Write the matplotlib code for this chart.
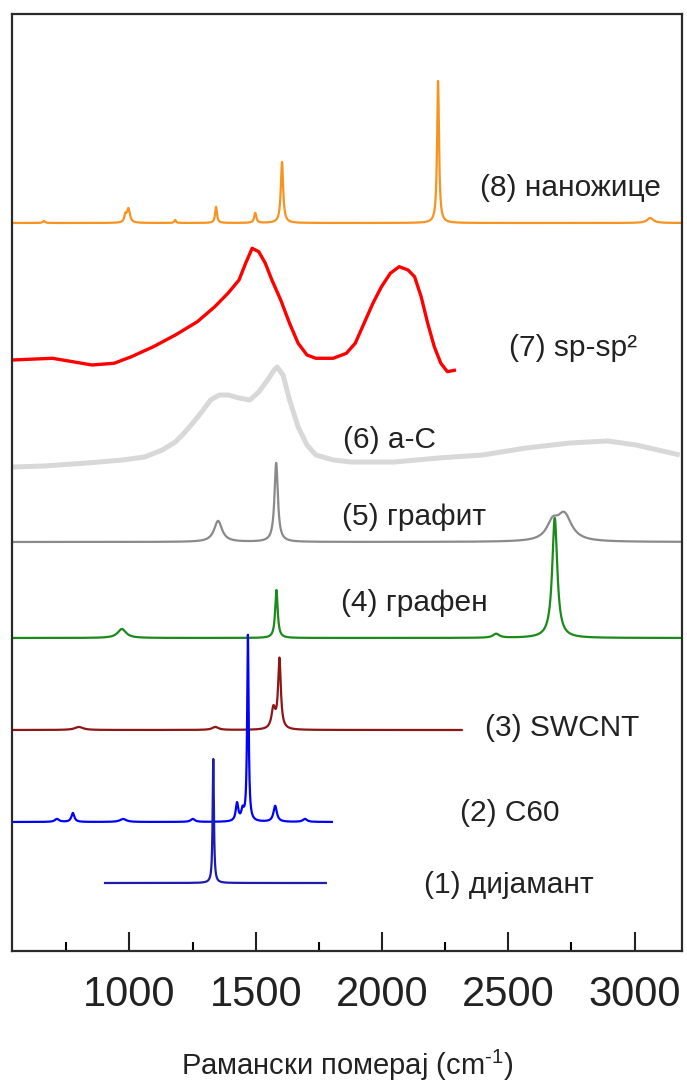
import numpy as np
import matplotlib
matplotlib.use("Agg")
import matplotlib.pyplot as plt

plt.rcParams['font.family'] = ['Liberation Sans', 'DejaVu Sans']
plt.rcParams['mathtext.fontset'] = 'custom'
plt.rcParams['mathtext.rm'] = 'Liberation Sans'
plt.rcParams['mathtext.it'] = 'Liberation Sans:italic'
plt.rcParams['mathtext.bf'] = 'Liberation Sans:bold'

# ---- Raman spectra (shift in cm^-1, intensity in arbitrary units) ----
# Sharp spectra are described by their bands: (centre, height, FWHM)
diamond_range = (899, 1782)
diamond_peaks = [(1332, 124, 6)]

c60_range = (535, 1806)
c60_peaks = [(1469, 186, 7), (1448, 10, 12), (1426, 18, 12), (1577, 16, 16),
             (776, 9, 14), (713, 3, 20), (975, 3, 30), (1251, 3, 20), (1695, 3, 20)]

swcnt_range = (535, 2320)
swcnt_peaks = [(1594, 70, 13), (1570, 20, 18), (1340, 3, 30), (800, 3, 40)]

graphene_range = (535, 3188)
graphene_peaks = [(1582, 48, 12), (2684, 120, 24), (970, 9, 40), (2452, 4, 30)]

graphite_range = (535, 3188)
graphite_peaks = [(1581, 79, 16), (1351, 21, 38), (2722, 26, 70), (2675, 16, 55)]

nanowire_range = (535, 3188)
nanowire_peaks = [(2222, 142, 9), (1604, 61, 11), (996, 14, 14), (984, 7, 10),
                  (1343, 16, 9), (1498, 10, 10), (3062, 5, 30), (1181, 3, 8), (661, 2, 10)]

# Broad spectra are given as points
ac_shift = [539, 661, 834, 973, 1060, 1130, 1182, 1217, 1251, 1286, 1321, 1356,
            1390, 1434, 1477, 1512, 1547, 1573, 1585, 1608, 1634, 1668, 1703, 1738,
            1807, 1877, 2050, 2224, 2398, 2571, 2745, 2893, 3006, 3093, 3179]
ac_int = [0, 1, 4, 7, 10, 17, 25, 34, 44, 55, 67, 72,
          72, 69, 67, 75, 87, 97, 100, 92, 67, 40, 22, 12,
          7, 5, 5, 9, 12, 19, 24, 26, 22, 17, 12]

spsp2_shift = [539, 695, 852, 939, 1008, 1095, 1182, 1269, 1338, 1390, 1434, 1460,
               1486, 1512, 1538, 1564, 1599, 1634, 1668, 1703, 1738, 1807, 1859, 1894,
               1929, 1964, 1998, 2033, 2068, 2103, 2129, 2155, 2181, 2207, 2233, 2259, 2293]
spsp2_int = [0, 1.7, -5, -3.3, 3.3, 13.3, 25, 38.3, 53.3, 66.7, 80, 96.7,
             111.7, 108.3, 96.7, 80, 60, 36.7, 16.7, 5, 1.7, 1.7, 6.7, 16.7,
             36.7, 56.7, 73.3, 86.7, 93.3, 90, 83.3, 63.3, 36.7, 13.3, -3.3, -11.7, -10]

# Vertical stacking offsets, (1) at the bottom to (8) at the top
offsets = [68, 129, 221, 313, 409, 484, 591, 728]

labels = ['(1) дијамант', '(2) C60', '(3) SWCNT', '(4) графен',
          '(5) графит', '(6) a-C', '(7) sp-sp²', '(8) наножице']
colors = ['#1c1cb0', '#0000ff', '#8e1616', '#1a8a1a',
          '#8a8a8a', '#d8d8d8', '#ff0000', '#f7931e']
widths = [1.6, 1.6, 1.6, 1.6, 1.6, 3.6, 2.4, 1.6]

# label centres (shift, intensity)
label_pos = [(2501, 66), (2505, 138), (2715, 223), (2129, 348),
             (2125, 434), (2028, 511), (2758, 603), (2745, 763)]


def band_sum(x, peaks):
    y = np.zeros_like(x)
    for c, h, w in peaks:
        y += h / (1.0 + ((x - c) / (w / 2.0)) ** 2)
    return y


def sampled(rng, peaks):
    x = np.arange(rng[0], rng[1] + 0.5, 0.5)
    return x, band_sum(x, peaks)


curves = [
    sampled(diamond_range, diamond_peaks),
    sampled(c60_range, c60_peaks),
    sampled(swcnt_range, swcnt_peaks),
    sampled(graphene_range, graphene_peaks),
    sampled(graphite_range, graphite_peaks),
    (np.array(ac_shift, float), np.array(ac_int, float)),
    (np.array(spsp2_shift, float), np.array(spsp2_int, float)),
    sampled(nanowire_range, nanowire_peaks),
]

fig = plt.figure(figsize=(6.87, 10.84), dpi=100)
ax = fig.add_axes([0.01747, 0.1227, 0.9753, 0.8644])

# draw top spectrum first so the lower ones sit above it
for i in range(7, -1, -1):
    x, y = curves[i]
    ax.plot(x, y + offsets[i], color=colors[i], lw=widths[i],
            solid_joinstyle='round', solid_capstyle='butt')

for i, (lx, ly) in enumerate(label_pos):
    ax.text(lx, ly, labels[i], fontsize=21.5, color='#222222', ha='center', va='center')

ax.set_xlim(535, 3188)
ax.set_ylim(0, 937)
ax.set_xticks([1000, 1500, 2000, 2500, 3000])
ax.set_xticks([750, 1250, 1750, 2250, 2750], minor=True)
ax.set_yticks([])
ax.tick_params(axis='x', which='major', direction='in', length=13.5, width=1.5,
               labelsize=30, pad=17, colors='#222222')
ax.tick_params(axis='x', which='minor', direction='in', length=6.5, width=1.5)
for s in ax.spines.values():
    s.set_linewidth(1.6)
    s.set_color('#2a2a2a')

ax.set_xlabel(r'Рамански померај (cm$^{\text{-1}}$)', fontsize=21, color='#222222',
              labelpad=24)

fig.savefig('out.png', dpi=100)
